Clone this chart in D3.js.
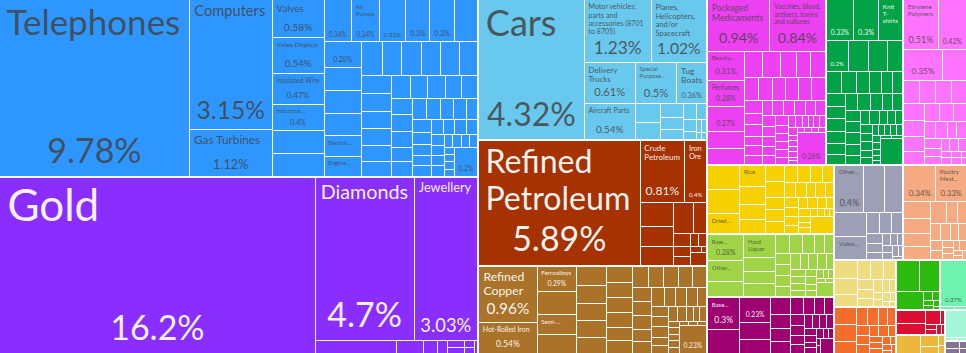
<!DOCTYPE html>
<html><head><meta charset="utf-8">
<script src="https://cdn.jsdelivr.net/npm/d3@7"></script>
<style>html,body{margin:0;padding:0;background:#fff;overflow:hidden}svg{display:block}</style>
</head><body>
<svg id="chart" width="966" height="353"></svg>
<script>
function u(...v) { return v.map(x => ["", x]); }

// ---- DATA (share of exports, %) ----
const sectorNames = ["Machines","Precious Metals","Transportation","Mineral Products","Metals","Chemical Products","Textiles","Plastics and Rubbers","Vegetable Products","Foodstuffs","Miscellaneous","Instruments","Animal Products","Paper Goods","Stone And Glass","Footwear and Headwear","Animal Hides","Wood Products","Animal and Vegetable Bi-Products","Weapons","Arts and Antiques"];

const machines = [["Telephones",9.78],["Computers",3.15],["Gas Turbines",1.12],
 ["Valves",0.58],["Video Displays",0.54],["Insulated Wire",0.47],["Industrial Printers",0.40],
 ...u(0.35,0.34,0.34),["Air Pumps",0.34],...u(0.33,0.30),["Liquid Pumps",0.30],...u(0.29),
 ...u(0.28,0.25,0.25,0.24),["Electric Heaters",0.22],["Engine Parts",0.22],
 ...u(0.20,0.19,0.19,0.19,0.18,0.18),
 ...u(0.16,0.15,0.15,0.14,0.14,0.13,0.13,0.12,0.12,0.11,0.11,0.10,0.10,0.10,0.09,0.09,0.09,0.08,0.08,0.08,0.07,0.07,0.07,0.06,0.06,0.06,0.05,0.05,0.05,0.05,0.04,0.04,0.04,0.04,0.03,0.03,0.03,0.03,0.02,0.02,0.02,0.02),
 ...u(0.20)];
const precious = [["Gold",16.2],["Diamonds",4.7],["Jewellery",3.03],...u(0.30,0.10,0.05,0.04,0.03,0.03,0.02,0.02,0.01)];
const transport = [["Cars",4.32],["Motor vehicles; parts and accessories (8701 to 8705)",1.23],["Planes, Helicopters, and/or Spacecraft",1.02],["Delivery Trucks",0.61],["Aircraft Parts",0.54],["Special Purpose Motor Vehicles",0.50],["Tug Boats",0.36],...u(0.14),["Other Ships",0.12],...u(0.10,0.08,0.07,0.06,0.05,0.04,0.03,0.02,0.02,0.01,0.01)];
const mineral = [["Refined Petroleum",5.89],["Crude Petroleum",0.81],["Iron Ore",0.40],...u(0.24,0.20,0.18,0.175,0.125,0.06,0.05,0.04,0.03,0.03,0.02,0.01,0.06)];
const metals = [["Refined Copper",0.96],["Hot-Rolled Iron",0.54],["Ferroalloys",0.29],...u(0.27),["Semi-Finished Iron",0.23],["Aluminium Plating",0.22],
 ...u(0.17,0.16,0.15,0.15,0.14,0.12,0.12,0.11,0.11,0.10,0.10,0.10,0.10,0.09,0.09,0.09,0.08,0.08,0.08,0.07,0.07,0.07,0.06,0.06,0.06,0.05,0.05,0.05,0.05,0.04,0.04,0.04,0.04,0.03,0.03,0.03,0.02,0.02,0.02,0.02,0.02,0.01,0.01,0.01),["Valves and Taps",0.23]];
const chemicals = [["Packaged Medicaments",0.94],["Vaccines, blood, antisera, toxins and cultures",0.84],["Beauty Products",0.31],["Perfumes",0.28],
 ...u(0.27,0.18,0.17,0.14,0.14,0.12,0.11,0.11,0.10,0.09,0.09,0.09,0.09,0.09,0.07,0.06,0.06,0.05,0.05,0.05,0.05,
 0.05,0.05,0.05,0.045,0.045,0.04,0.04,0.04,0.035,0.035,0.035,0.03,0.03,0.03,0.03,0.025,0.025,0.025,0.02,0.02,0.02,0.02,0.02,0.015,0.015,0.015,0.015,0.01,0.01,0.01,0.01,0.01,0.01),["Vitamins and Provitamins",0.26]];
const textiles = [...u(0.33),["Non-Knit Men's Suits",0.30],["Knit T-shirts",0.29],...u(0.20),["Knit Women's Suits",0.19],
 ...u(0.17,0.14,0.10,0.10,0.08,0.08,0.07,0.07,0.075,0.07,0.07,0.07,0.06,0.06,0.06,0.06,0.06,0.05,0.05,0.05,0.05,0.05,0.05,0.04,0.04,0.04,0.035,0.035,0.03,0.03,0.03,0.03,0.025,0.025,0.02,0.02,0.02,0.02,0.02,0.015,0.015,0.015,0.01,0.01,0.01,0.01,0.17)];
const plastics = [["Ethylene Polymers",0.51],...u(0.42,0.35,0.22,0.11,0.11,0.11,0.10,0.10,0.10,0.09,0.08,0.08,0.07,0.07,0.06,0.06,0.05,0.05,0.05,0.04,0.04,0.03,0.03,0.03,0.02,0.02,0.02,0.02,0.01,0.01)];
const vegetable = [...u(0.23,0.23),["Dried Legumes",0.19],["Rice",0.155],...u(0.135,0.11,0.105,0.095,0.09,0.07,0.07,0.07,0.065,0.06,0.06,0.055,0.05,0.05,0.045,0.045,0.04,0.04,0.04,0.035,0.035,0.03,0.03,0.03,0.025,0.025,0.02,0.02,0.02,0.015,0.015,0.01,0.01,0.12)];
const foodstuffs = [["Raw Tobacco",0.28],["Other Processed Fruits and Nuts",0.22],...u(0.165),["Hard Liquor",0.21],...u(0.13,0.12,0.12,0.078,0.072,0.066,0.054,0.054,0.05,0.05,0.05,0.045,0.045,0.04,0.04,0.04,0.035,0.035,0.03,0.03,0.03,0.025,0.025,0.02,0.02,0.02,0.015,0.015,0.01,0.01,0.07)];
const miscellaneous = [["Base Metal Lamps",0.30],...u(0.23,0.23,0.15,0.13,0.10,0.08,0.075,0.07,0.066,0.055,0.05,0.045,0.045,0.04,0.04,0.035,0.035,0.03,0.03,0.03,0.025,0.025,0.02,0.02,0.02,0.015,0.015,0.01,0.01,0.06)];
const instruments = [["Other Measuring Instruments",0.40],...u(0.28,0.26,0.23),["Video Recording Equipment",0.21],...u(0.085,0.08,0.07,0.05,0.04,0.035,0.03,0.025,0.02,0.02,0.02,0.02,0.015,0.01)];
const animal = [...u(0.34),["Poultry Meat and Offal",0.33],...u(0.13,0.12,0.11,0.10,0.10,0.07,0.06,0.05,0.05,0.04,0.04,0.035,0.03,0.025,0.02,0.02,0.02,0.02,0.015,0.01,0.01)];
const paper = u(0.12,0.105,0.085,0.075,0.07,0.07,0.05,0.045,0.04,0.035,0.03,0.025,0.02,0.02,0.02,0.015,0.01,0.01);
const stone = u(0.11,0.11,0.08,0.06,0.055,0.05,0.045,0.04,0.035,0.035,0.03,0.03,0.025,0.025,0.02,0.02,0.02,0.015,0.015,0.01,0.01);
const footwear = u(0.21,0.19,0.14,0.025,0.02,0.015,0.01,0.01,0.005);
const hides = u(0.37,0.01,0.008);
const wood = u(0.12,0.095,0.065,0.02,0.015,0.015,0.015,0.01);
const byproducts = [["Palm Oil",0.135],...u(0.06,0.04,0.02,0.015)];
const weapons = u(0.18,0.01,0.01);
const arts = u(0.03,0.025,0.015,0.01);

const sectorProducts = [machines,precious,transport,mineral,metals,chemicals,textiles,plastics,vegetable,foodstuffs,miscellaneous,instruments,animal,paper,stone,footwear,hides,wood,byproducts,weapons,arts];

// ---- STYLE ----
const sectorColors = ["#2E97FF","#892EFF","#69C8ED","#A53200","#AA7329","#ED40F2","#02A347","#FF73FF","#F7D000","#A0D447","#9E0071","#9C9FB5","#F5AA82","#EFDC81","#F46D2A","#2CBA0F","#6DF2B0","#DD0E31","#EDB73E","#A5F5D8","#847290"];
const W = 966, H = 353, FONT = "Lato";

const svg = d3.select("#chart");
svg.append("rect").attr("width", W).attr("height", H).attr("fill", "#fff");

const root = d3.hierarchy({name: "Exports", children: sectorNames.map((s, i) => ({
  name: s, children: sectorProducts[i].map(([n, v]) => ({name: n, value: v}))
}))}).sum(d => d.value || 0);

d3.treemap().size([W, H]).tile(d3.treemapSquarify)
  .paddingInner(d => d.depth === 0 ? 2 : 1).round(false)(root);

const color = d3.scaleOrdinal().domain(sectorNames).range(sectorColors);
const fmt = d3.format(".2~f");

function isDark(c) { const r = d3.rgb(c); return (r.r * 299 + r.g * 587 + r.b * 114) / 1000 < 128; }

const ctx = document.createElement("canvas").getContext("2d");
function tw(s, f) { ctx.font = `${f}px ${FONT}`; return ctx.measureText(s).width; }
function tokens(name) { return name.split(/\s+/).flatMap(w => w.split(/(?<=-)/)).filter(Boolean); }
function joinT(a) { let s = ""; a.forEach((t, i) => { s += (i && !a[i-1].endsWith("-") ? " " : "") + t; }); return s; }
function wrap(toks, f, Wd) {
  const lines = []; let cur = [];
  for (const t of toks) {
    if (tw(t, f) > Wd) return null;
    if (cur.length && tw(joinT([...cur, t]), f) > Wd) { lines.push(cur); cur = [t]; } else cur.push(t);
  }
  if (cur.length) lines.push(cur);
  return lines.map(joinT);
}
function truncate(toks, f, Wd, maxLines) {
  const lines = []; let cur = []; let i = 0;
  for (; i < toks.length; i++) {
    const t = toks[i];
    if (tw(joinT([...cur, t]), f) <= Wd) { cur.push(t); continue; }
    if (cur.length && lines.length + 1 < maxLines && tw(t, f) <= Wd) { lines.push(cur); cur = [t]; continue; }
    break;
  }
  if (i >= toks.length) { if (cur.length) lines.push(cur); return lines.map(joinT); }
  while (cur.length && tw(joinT(cur) + "...", f) > Wd) cur.pop();
  if (!cur.length) return null;
  lines.push(cur);
  const out = lines.map(joinT); out[out.length - 1] += "...";
  return out;
}

const leaves = root.leaves();
const tiles = svg.append("g").selectAll("g").data(leaves).join("g");
tiles.append("rect")
  .attr("x", d => d.x0).attr("y", d => d.y0)
  .attr("width", d => Math.max(0, d.x1 - d.x0)).attr("height", d => Math.max(0, d.y1 - d.y0))
  .attr("fill", d => color(d.parent.data.name))
  .attr("shape-rendering", "crispEdges");

tiles.each(function(d) {
  const w = d.x1 - d.x0, h = d.y1 - d.y0;
  if (w < 18 || h < 12) return;
  const g = d3.select(this);
  const dark = isDark(color(d.parent.data.name));
  const fill = dark ? "#fff" : "#444";
  const op = dark ? 0.95 : 0.85;
  const pct = fmt(d.data.value) + "%";
  let fp = Math.min(34, 0.9 * (w - 6) / tw(pct, 1), 0.28 * h);
  const showPct = fp >= 6 && h >= 24;
  let reserved = 0;
  if (showPct) {
    reserved = fp * 1.1 + 2;
    g.append("text").attr("x", (d.x0 + d.x1) / 2).attr("y", d.y1 - 0.3 * fp - 3)
      .attr("text-anchor", "middle").attr("font-family", FONT).attr("font-size", fp)
      .attr("fill", fill).attr("fill-opacity", op).text(pct);
  }
  const name = d.data.name;
  if (!name) return;
  const toks = tokens(name);
  let chosen = null, f;
  const maxF = Math.min(44, 0.26 * h);
  for (f = maxF; f >= 6; f -= 0.5) {
    const padx = 3 + 0.1 * f, pady = 3 + 0.06 * f;
    const lines = wrap(toks, f, w - 2 * padx);
    if (lines && lines.length * 1.15 * f <= h - reserved - 2 * pady) { chosen = lines; break; }
  }
  if (!chosen) {
    f = 6;
    const padx = 3.6, pady = 3.4;
    const maxLines = Math.floor((h - reserved - 2 * pady) / (1.15 * f));
    if (maxLines < 1) return;
    chosen = truncate(toks, f, w - 2 * padx, maxLines);
    if (!chosen) return;
  }
  const padx = 3 + 0.1 * f, pady = 3 + 0.06 * f;
  const t = g.append("text").attr("font-family", FONT).attr("font-size", f)
    .attr("fill", fill).attr("fill-opacity", op);
  chosen.forEach((ln, i) => {
    t.append("tspan").attr("x", d.x0 + padx).attr("y", d.y0 + pady + 0.85 * f + i * 1.15 * f).text(ln);
  });
});
</script>
</body></html>
